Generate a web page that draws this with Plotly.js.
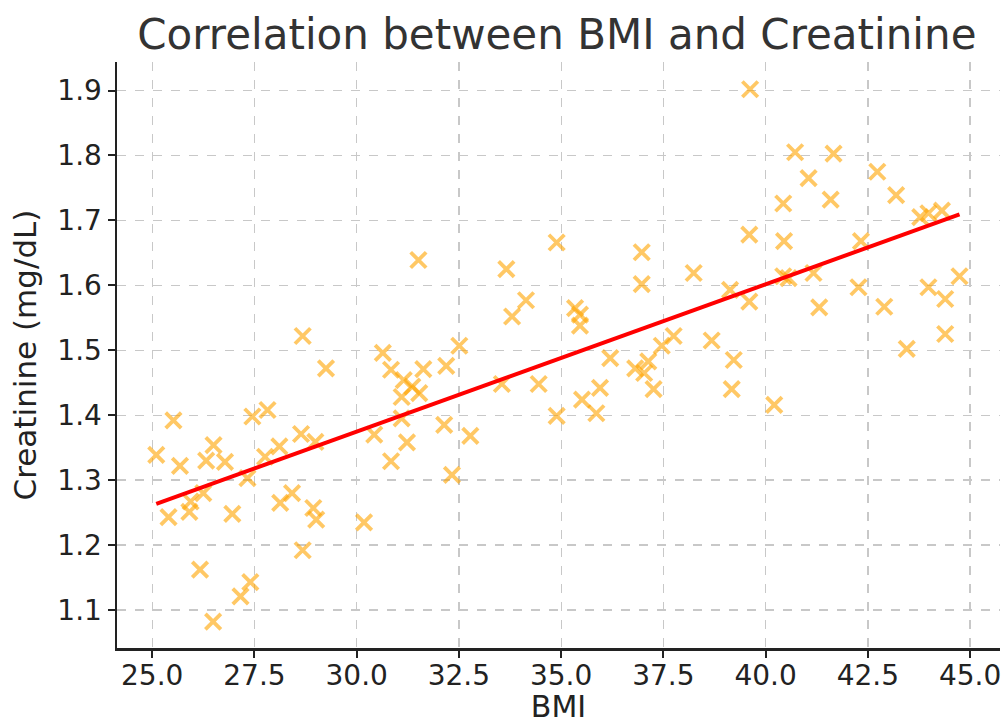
<!DOCTYPE html>
<html>
<head>
<meta charset="utf-8">
<script src="https://cdn.plot.ly/plotly-3.0.1.min.js"></script>
<style>html,body{margin:0;padding:0;background:#fff;}#chart{width:1007px;height:724px;}</style>
</head>
<body>
<div id="chart"></div>
<script>
const bmi = [
  25.10, 25.52, 25.68, 25.40, 25.91, 25.94, 26.25, 26.32, 26.50, 26.78,
  26.96, 26.17, 26.49, 27.16, 27.40, 27.33, 27.45, 27.82, 27.76, 28.11,
  28.13, 28.42, 28.64, 28.99, 28.94, 29.01, 28.68, 28.68, 29.25, 30.18,
  30.64, 30.84, 30.43, 30.84, 31.15, 31.36, 31.63, 32.19, 32.51, 31.10,
  31.53, 31.10, 31.23, 32.14, 32.78, 32.33, 33.55, 33.80, 31.51, 33.66,
  34.89, 34.14, 35.34, 35.46, 35.46, 36.97, 36.97, 38.24, 37.75, 37.46,
  38.68, 36.20, 34.45, 36.81, 37.13, 37.03, 37.26, 35.95, 35.51, 35.86,
  34.89, 40.72, 41.66, 41.05, 41.59, 40.43, 42.73, 43.19, 43.78, 43.98,
  44.31, 39.60, 40.45, 42.33, 40.43, 40.56, 41.17, 42.27, 41.31, 42.90,
  43.98, 44.39, 44.74, 44.39, 43.45, 39.13, 39.60, 39.22, 39.17, 40.21,
  39.62
];
const creatinine = [
  1.339, 1.392, 1.322, 1.243, 1.251, 1.267, 1.280, 1.330, 1.354, 1.328,
  1.248, 1.162, 1.082, 1.121, 1.143, 1.303, 1.398, 1.408, 1.336, 1.352,
  1.265, 1.280, 1.371, 1.359, 1.257, 1.239, 1.192, 1.522, 1.472, 1.235,
  1.496, 1.470, 1.370, 1.329, 1.454, 1.444, 1.471, 1.476, 1.507, 1.428,
  1.434, 1.395, 1.358, 1.385, 1.368, 1.308, 1.448, 1.552, 1.639, 1.625,
  1.666, 1.577, 1.565, 1.555, 1.538, 1.651, 1.602, 1.619, 1.522, 1.507,
  1.515, 1.488, 1.448, 1.472, 1.483, 1.465, 1.440, 1.442, 1.424, 1.403,
  1.399, 1.805, 1.803, 1.765, 1.732, 1.726, 1.775, 1.739, 1.705, 1.711,
  1.715, 1.678, 1.668, 1.668, 1.614, 1.611, 1.619, 1.597, 1.566, 1.567,
  1.597, 1.579, 1.614, 1.525, 1.502, 1.593, 1.575, 1.485, 1.440, 1.416,
  1.902
];
const xTickVals = [25.0, 27.5, 30.0, 32.5, 35.0, 37.5, 40.0, 42.5, 45.0];
const xTickText = ["25.0", "27.5", "30.0", "32.5", "35.0", "37.5", "40.0", "42.5", "45.0"];
const yTickVals = [1.1, 1.2, 1.3, 1.4, 1.5, 1.6, 1.7, 1.8, 1.9];
const yTickText = ["1.1", "1.2", "1.3", "1.4", "1.5", "1.6", "1.7", "1.8", "1.9"];

// least-squares fit of the data
const n = bmi.length;
const mx = bmi.reduce((a, b) => a + b, 0) / n;
const my = creatinine.reduce((a, b) => a + b, 0) / n;
let sxy = 0, sxx = 0;
for (let i = 0; i < n; i++) { sxy += (bmi[i] - mx) * (creatinine[i] - my); sxx += (bmi[i] - mx) ** 2; }
const slope = sxy / sxx, intercept = my - slope * mx;
const xs = bmi.slice().sort((a, b) => a - b);
const fitX = [xs[0], xs[xs.length - 1]];
const fitY = fitX.map(v => intercept + slope * v);

const font = 'DejaVu Sans, sans-serif';
const data = [
  {
    x: bmi, y: creatinine, type: 'scatter', mode: 'markers',
    marker: { symbol: 'x-thin', size: 15.5, color: 'orange', opacity: 0.6,
              line: { color: 'orange', width: 3.8 } },
    showlegend: false
  },
  {
    x: fitX, y: fitY, type: 'scatter', mode: 'lines',
    line: { color: 'red', width: 4 }, showlegend: false
  }
];
const axisCommon = {
  showline: true, linecolor: '#222', linewidth: 2.5, mirror: false,
  ticks: 'outside', ticklen: 7, tickwidth: 2, tickcolor: '#222',
  showgrid: true, gridcolor: '#c8c8c8', gridwidth: 1.3, griddash: 'dash',
  zeroline: false, tickfont: { family: font, size: 28, color: '#222' }
};
const layout = {
  width: 1007, height: 724,
  paper_bgcolor: '#fff', plot_bgcolor: '#fff',
  margin: { l: 117, r: 7, t: 62, b: 76 },
  title: { text: 'Correlation between BMI and Creatinine', x: 0.553, xanchor: 'center', y: 0.952, yanchor: 'middle',
           font: { family: font, size: 42, color: '#333' } },
  xaxis: Object.assign({}, axisCommon, {
    range: [24.14, 45.73], tickvals: xTickVals, ticktext: xTickText,
    ticklabelstandoff: -6,
    title: { text: 'BMI', font: { family: font, size: 30, color: '#222' }, standoff: 18 }
  }),
  yaxis: Object.assign({}, axisCommon, {
    range: [1.0414, 1.944], tickvals: yTickVals, ticktext: yTickText,
    title: { text: 'Creatinine (mg/dL)', font: { family: font, size: 31, color: '#222' }, standoff: 12 }
  })
};
Plotly.newPlot('chart', data, layout, { staticPlot: true, displayModeBar: false });
</script>
</body>
</html>
